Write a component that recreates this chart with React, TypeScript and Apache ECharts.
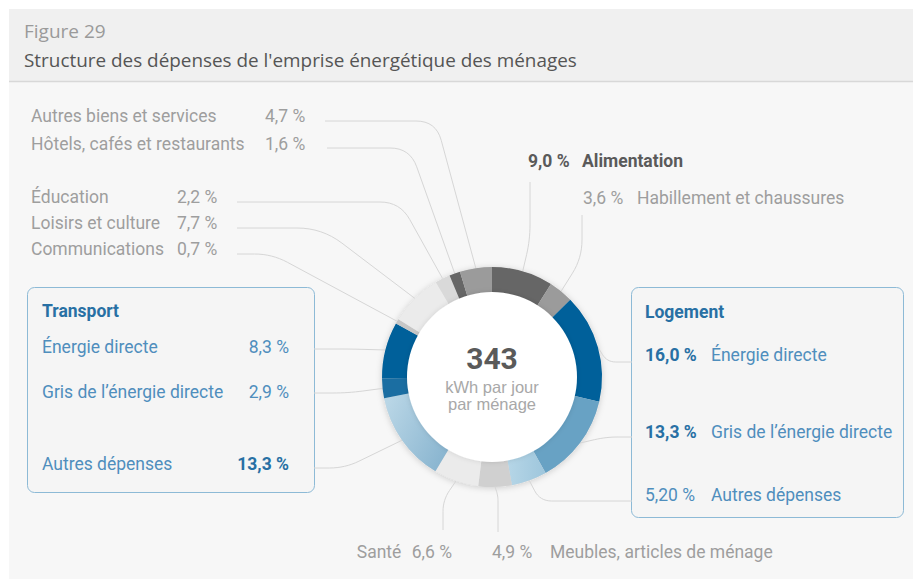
import React, { useEffect, useRef } from "react";
import * as echarts from "echarts";

// ---------- data ----------
const categories = [
  "Alimentation",
  "Habillement et chaussures",
  "Énergie directe",
  "Gris de l’énergie directe",
  "Autres dépenses",
  "Meubles, articles de ménage",
  "Santé",
  "Autres dépenses",
  "Gris de l’énergie directe",
  "Énergie directe",
  "Communications",
  "Loisirs et culture",
  "Éducation",
  "Hôtels, cafés et restaurants",
  "Autres biens et services",
];
const groups = ["", "", "Logement", "Logement", "Logement", "", "", "Transport", "Transport", "Transport", "", "", "", "", ""];
const shares = [9.0, 3.6, 16.0, 13.3, 5.2, 4.9, 6.6, 13.3, 2.9, 8.3, 0.7, 7.7, 2.2, 1.6, 4.7];
const shareDecimals = [1, 1, 1, 1, 2, 1, 1, 1, 1, 1, 1, 1, 1, 1, 1];
const totalKWh = 343;
const totalUnit = ["kWh par jour", "par ménage"];
const groupTitles = ["Transport", "Logement"];
const headerFigure = "Figure 29";
const headerTitle = "Structure des dépenses de l'emprise énergétique des ménages";

// ---------- styles ----------
const GRAY = "#9e9e9e";
const DARK = "#5a5a5a";
const BLUE = "#4f8ebd";
const BLUE_DARK = "#2870a4";
const LINE = "#d6d6d6";
const FONT = "Roboto";
const FS = 17.5;

const COLORS: any[] = [
  "#666666",
  "#9b9b9b",
  "#00609a",
  "#68a2c4",
  new echarts.graphic.LinearGradient(0, 0, 1, 0, [
    { offset: 0, color: "#b6d6e7" },
    { offset: 1, color: "#9ec6dc" },
  ]),
  "#d0d0d0",
  "#ebebeb",
  new echarts.graphic.LinearGradient(0, 0.2, 1, 0.8, [
    { offset: 0, color: "#b9d6e6" },
    { offset: 1, color: "#88b4cf" },
  ]),
  "#1b6ea2",
  "#00609a",
  "#c6c6c6",
  "#ebebeb",
  "#d9d9d9",
  "#666666",
  "#9b9b9b",
];

// label placement (per slice, same order as data)
const LAYOUT: { kind: string; x: number; y: number; align: string; via: number[][]; end: number[]; r: number }[] = [
  { kind: "alim", x: 528, y: 161, align: "left", via: [[530, 240]], end: [530, 182], r: 15 },
  { kind: "hab", x: 583, y: 198, align: "left", via: [[582, 258]], end: [582, 215], r: 18 },
  { kind: "log", x: 645, y: 355, align: "left", via: [[607, 362]], end: [632, 362], r: 10 },
  { kind: "log", x: 645, y: 432, align: "left", via: [[606, 437]], end: [632, 437], r: 12 },
  { kind: "log", x: 645, y: 495, align: "left", via: [[540, 501]], end: [632, 501], r: 14 },
  { kind: "meub", x: 492, y: 552, align: "left", via: [[498, 496]], end: [498, 532], r: 8 },
  { kind: "sante", x: 452, y: 552, align: "right", via: [[443, 500]], end: [443, 530], r: 12 },
  { kind: "tr", x: 42, y: 464, align: "left", via: [[345, 468]], end: [314, 468], r: 25 },
  { kind: "tr", x: 42, y: 392, align: "left", via: [[348, 393]], end: [314, 393], r: 15 },
  { kind: "tr", x: 42, y: 347, align: "left", via: [[350, 349]], end: [314, 349], r: 12 },
  { kind: "gB", x: 31, y: 249, align: "left", via: [[272, 254]], end: [237, 254], r: 30 },
  { kind: "gB", x: 31, y: 223, align: "left", via: [[322, 228]], end: [237, 228], r: 25 },
  { kind: "gB", x: 31, y: 197, align: "left", via: [[400, 202]], end: [237, 202], r: 20 },
  { kind: "gA", x: 31, y: 144, align: "left", via: [[410, 148]], end: [327, 148], r: 20 },
  { kind: "gA", x: 31, y: 116, align: "left", via: [[436, 121]], end: [325, 121], r: 20 },
];

function fmt(v: number, d: number) {
  return v.toFixed(d).replace(".", ",") + " %";
}

function roundPath(pts: number[][], r: number): number[][] {
  if (pts.length < 3) return pts;
  const out: number[][] = [pts[0]];
  for (let i = 1; i < pts.length - 1; i++) {
    const [px, py] = pts[i - 1];
    const [cx, cy] = pts[i];
    const [nx, ny] = pts[i + 1];
    const d1 = Math.hypot(cx - px, cy - py) || 1;
    const d2 = Math.hypot(nx - cx, ny - cy) || 1;
    const rr = Math.min(r, d1 / 2, d2 / 2);
    const a = [cx + ((px - cx) * rr) / d1, cy + ((py - cy) * rr) / d1];
    const b = [cx + ((nx - cx) * rr) / d2, cy + ((ny - cy) * rr) / d2];
    for (let k = 0; k <= 8; k++) {
      const t = k / 8;
      const u = 1 - t;
      out.push([u * u * a[0] + 2 * u * t * cx + t * t * b[0], u * u * a[1] + 2 * u * t * cy + t * t * b[1]]);
    }
  }
  out.push(pts[pts.length - 1]);
  return out;
}

const tok = (o: any) => ({ fontFamily: FONT, fontSize: FS, lineHeight: 22, ...o });

const RICH: any = {
  gA: tok({ width: 234, color: GRAY }),
  gB: tok({ width: 146, color: GRAY }),
  gv: tok({ color: GRAY }),
  gn: tok({ color: GRAY }),
  av: tok({ width: 54, color: DARK, fontWeight: "bold" }),
  an: tok({ color: DARK, fontWeight: "bold" }),
  hv: tok({ width: 54, color: GRAY }),
  tn: tok({ width: 195, color: BLUE }),
  tv: tok({ width: 52, align: "right", color: BLUE }),
  tvb: tok({ width: 52, align: "right", color: BLUE_DARK, fontWeight: "bold" }),
  lv: tok({ width: 66, color: BLUE }),
  lvb: tok({ width: 66, color: BLUE_DARK, fontWeight: "bold" }),
  ln: tok({ color: BLUE }),
  sn: tok({ width: 55, align: "left", color: GRAY }),
  sv: tok({ align: "left", color: GRAY }),
  mv: tok({ width: 58, color: GRAY }),
};

function labelText(i: number) {
  const name = categories[i];
  const v = fmt(shares[i], shareDecimals[i]);
  const bold = shares[i] >= 9;
  switch (LAYOUT[i].kind) {
    case "gA":
      return `{gA|${name}}{gv|${v}}`;
    case "gB":
      return `{gB|${name}}{gv|${v}}`;
    case "alim":
      return `{av|${v}}{an|${name}}`;
    case "hab":
      return `{hv|${v}}{gn|${name}}`;
    case "tr":
      return `{tn|${name}}{${bold ? "tvb" : "tv"}|${v}}`;
    case "log":
      return `{${bold ? "lvb" : "lv"}|${v}}{ln|${name}}`;
    case "sante":
      return `{sn|${name}}{sv|${v}}`;
    case "meub":
      return `{mv|${v}}{gn|${name}}`;
  }
  return name;
}

const CENTER: [number, number] = [492, 377];

export default function App() {
  const ref = useRef<HTMLDivElement>(null);
  useEffect(() => {
    const chart = echarts.init(ref.current!, null, { renderer: "svg" });
    const option: any = {
      animation: false,
      graphic: {
        elements: [
          { type: "rect", z: 0, shape: { x: 0, y: 0, width: 913, height: 579 }, style: { fill: "#ffffff" } },
          { type: "rect", z: 0, shape: { x: 9, y: 9, width: 904, height: 72 }, style: { fill: "#f0f0f0" } },
          { type: "rect", z: 0, shape: { x: 9, y: 82, width: 904, height: 497 }, style: { fill: "#f7f7f7" } },
          { type: "line", z: 0, shape: { x1: 9, y1: 81.5, x2: 913, y2: 81.5 }, style: { stroke: "#d8d8d8", lineWidth: 1.5 } },
          {
            type: "text", z: 1, x: 24, y: 31,
            style: { text: headerFigure, fill: "#9a9a9a", fontFamily: "Open Sans", fontSize: 19, verticalAlign: "middle" },
          },
          {
            type: "text", z: 1, x: 24, y: 60,
            style: { text: headerTitle, fill: "#555555", fontFamily: "Open Sans", fontSize: 18.9, verticalAlign: "middle" },
          },
          {
            type: "rect", z: 1, shape: { x: 27.5, y: 287.5, width: 287, height: 205, r: 7 },
            style: { fill: "#f5f5f5", stroke: "#8dbad6", lineWidth: 1 },
          },
          {
            type: "rect", z: 1, shape: { x: 631.5, y: 287.5, width: 272, height: 230, r: 7 },
            style: { fill: "#f5f5f5", stroke: "#8dbad6", lineWidth: 1 },
          },
          {
            type: "text", z: 2, x: 42, y: 311,
            style: { text: groupTitles[0], fill: BLUE_DARK, fontFamily: FONT, fontWeight: "bold", fontSize: FS, verticalAlign: "middle" },
          },
          {
            type: "text", z: 2, x: 645, y: 312,
            style: { text: groupTitles[1], fill: BLUE_DARK, fontFamily: FONT, fontWeight: "bold", fontSize: FS, verticalAlign: "middle" },
          },
        ],
      },
      series: [
        {
          type: "pie",
          silent: true,
          z: 1,
          center: CENTER,
          radius: [84, 110],
          label: { show: false },
          labelLine: { show: false },
          itemStyle: { color: "#dddddd", shadowBlur: 6, shadowColor: "rgba(0,0,0,0.18)", shadowOffsetY: 1 },
          data: [{ value: 1, name: "" }],
        },
        {
          type: "pie",
          z: 2,
          silent: true,
          center: CENTER,
          radius: [84, 110],
          startAngle: 90,
          clockwise: true,
          avoidLabelOverlap: false,
          emphasis: { disabled: true, scale: false },
          data: shares.map((v, i) => ({
            value: v,
            name: (groups[i] ? groups[i] + " – " : "") + categories[i],
            itemStyle: { color: COLORS[i] },
          })),
          label: {
            show: true,
            position: "outside",
            fontFamily: FONT,
            fontSize: FS,
            formatter: (p: any) => labelText(p.dataIndex),
            rich: RICH,
          },
          labelLine: { show: true, length: 6, length2: 6, smooth: false, lineStyle: { color: LINE, width: 1 } },
          labelLayout: (params: any) => {
            const L = LAYOUT[params.dataIndex];
            const res: any = { x: L.x, y: L.y, align: L.align, verticalAlign: "middle" };
            if (params.labelLinePoints && params.labelLinePoints[0]) {
              res.labelLinePoints = roundPath([params.labelLinePoints[0], ...L.via, L.end], L.r);
            }
            return res;
          },
        },
        {
          type: "pie",
          z: 3,
          silent: true,
          center: CENTER,
          radius: [0, 85],
          labelLine: { show: false },
          itemStyle: { color: "#ffffff", shadowBlur: 5, shadowColor: "rgba(0,0,0,0.12)" },
          label: {
            show: true,
            position: "center",
            padding: [0, 0, 4, 0],
            formatter: `{a|${totalKWh}}\n{b|${totalUnit[0]}}\n{b|${totalUnit[1]}}`,
            rich: {
              a: { fontFamily: FONT, fontWeight: "bold", fontSize: 30, color: "#5a5a5a", lineHeight: 41, align: "center" },
              b: { fontFamily: "Liberation Sans", fontSize: 16.5, color: "#a8a8a8", lineHeight: 17, align: "center" },
            },
          },
          data: [{ value: 1, name: "" }],
        },
      ],
    };
    chart.setOption(option);
    return () => chart.dispose();
  }, []);
  return <div ref={ref} style={{ position: "absolute", left: 0, top: 0, width: 913, height: 579 }} />;
}
